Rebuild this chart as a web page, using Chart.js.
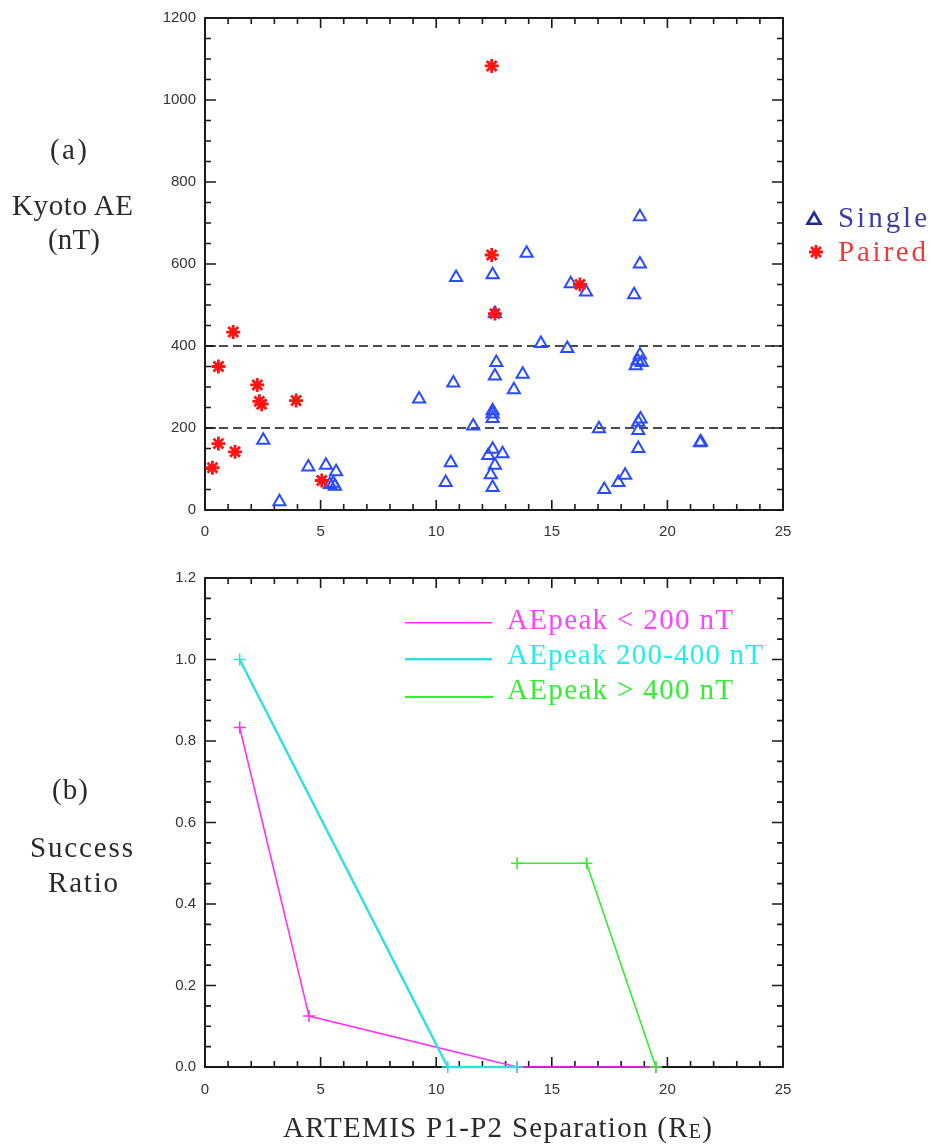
<!DOCTYPE html>
<html>
<head>
<meta charset="utf-8">
<title>ARTEMIS P1-P2 separation vs Kyoto AE</title>
<script src="https://cdn.jsdelivr.net/npm/chart.js@4.4.1/dist/chart.umd.min.js"></script>
<style>
  html, body { margin: 0; padding: 0; background: #fff; }
  #page { position: relative; width: 931px; height: 1147px; overflow: hidden; background: #fff; }
  canvas { position: absolute; left: 0; }
  #aeChart { top: 0; }
  #ratioChart { top: 560px; }
  .lbl {
    position: absolute;
    font-family: "Liberation Serif", "DejaVu Serif", serif;
    font-size: 29px;
    line-height: 29px;
    color: #2b2b2b;
    white-space: nowrap;
  }
  .sub { font-size: 20px; vertical-align: -1px; }
</style>
</head>
<body>
<div id="page">
  <canvas id="aeChart" width="931" height="560" style="width:931px;height:560px"></canvas>
  <canvas id="ratioChart" width="931" height="587" style="width:931px;height:587px"></canvas>

  <div class="lbl" data-x="68.5" data-y="150" data-w="37" data-anchor="c">(a)</div>
  <div class="lbl" data-x="72.5" data-y="205.5" data-w="121" data-anchor="c">Kyoto AE</div>
  <div class="lbl" data-x="74" data-y="240" data-w="52" data-anchor="c">(nT)</div>

  <div class="lbl" data-x="838" data-y="217.5" data-w="89" style="color:#3c3ca8">Single</div>
  <div class="lbl" data-x="838" data-y="251.5" data-w="88" style="color:#f03a3a">Paired</div>

  <div class="lbl" data-x="70" data-y="790" data-w="36" data-anchor="c">(b)</div>
  <div class="lbl" data-x="81.5" data-y="848" data-w="103" data-anchor="c">Success</div>
  <div class="lbl" data-x="83" data-y="883" data-w="70" data-anchor="c">Ratio</div>

  <div class="lbl" data-x="507" data-y="620" data-w="226" style="color:#ff44ff">AEpeak &lt; 200 nT</div>
  <div class="lbl" data-x="507" data-y="655" data-w="256" style="color:#22eeee">AEpeak 200-400 nT</div>
  <div class="lbl" data-x="507" data-y="690" data-w="226" style="color:#33ee33">AEpeak &gt; 400 nT</div>

  <div class="lbl" data-x="497.5" data-y="1127.5" data-w="429" data-anchor="c">ARTEMIS P1-P2 Separation (R<span class="sub">E</span>)</div>
</div>

<script>
// ---- (a) peak AE versus probe separation ----
const singleSep = [10.86, 12.44, 12.54, 12.60, 12.54, 10.74, 9.26, 12.44, 12.44, 12.44,
                   11.60, 2.52, 12.44, 12.25, 12.87, 12.54, 12.36, 12.44, 10.63, 10.41,
                   4.47, 5.23, 5.67, 5.40, 5.55, 5.62, 3.22, 13.91, 18.81, 15.82,
                   16.48, 18.56, 14.53, 15.67, 18.81, 18.71, 18.63, 18.89, 13.74, 13.36,
                   17.04, 18.84, 18.74, 18.74, 18.74, 21.41, 21.45, 18.17, 17.88, 17.27,
                   18.81];
const singleAE  = [567, 574, 479, 360, 327, 310, 271, 242, 234, 223,
                   205, 170, 148, 133, 137, 109, 86, 55, 115, 67,
                   105, 109, 93, 62, 65, 58, 20, 626, 600, 552,
                   532, 525, 406, 394, 378, 364, 352, 360, 331, 293,
                   198, 222, 214, 194, 150, 164, 166, 85, 67, 50,
                   715];
const pairedSep = [12.40, 12.40, 12.54, 16.22, 1.22, 0.58, 2.26, 2.35, 2.45, 3.94,
                   0.58, 1.30, 0.32, 5.05];
const pairedAE  = [1083, 622, 479, 550, 434, 350, 305, 265, 258, 267,
                   162, 142, 103, 72];
const aeThresholds = [200, 400];
const sepRange = [0, 25];
const sepTickValues = [0, 5, 10, 15, 20, 25];
const aeTickValues = [0, 200, 400, 600, 800, 1000, 1200];
const aeTickLabels = ['0', '200', '400', '600', '800', '1000', '1200'];

// ---- (b) success ratio per separation bin ----
const lowSep  = [1.5, 4.5, 13.5, 19.5];
const lowRatio = [0.833, 0.125, 0, 0];
const midSep  = [1.5, 10.5, 13.5];
const midRatio = [1.0, 0, 0];
const highSep = [13.5, 16.5, 19.5];
const highRatio = [0.5, 0.5, 0];
const ratioTickValues = [0, 0.2, 0.4, 0.6, 0.8, 1.0, 1.2];
const ratioTickLabels = ['0.0', '0.2', '0.4', '0.6', '0.8', '1.0', '1.2'];

const toPts = (xs, ys) => xs.map((x, i) => ({ x, y: ys[i] }));

Chart.defaults.font.family = '"Liberation Sans", Arial, sans-serif';
Chart.defaults.font.size = 15;
Chart.defaults.color = '#333';
Chart.defaults.animation = false;

// Closed frame with inward major/minor ticks on all four sides.
const framePlugin = {
  id: 'frame',
  beforeDatasetsDraw(chart, args, o) {
    const { ctx, chartArea: a } = chart;
    const xs = chart.scales.x, ys = chart.scales.y;
    ctx.save();
    ctx.strokeStyle = '#1a1a1a';
    ctx.lineWidth = 1.6;
    ctx.beginPath();
    const nx = Math.round((xs.max - xs.min) / o.xMinor);
    for (let i = 0; i <= nx; i++) {
      const v = xs.min + i * o.xMinor;
      const major = Math.abs(v / o.xMajor - Math.round(v / o.xMajor)) < 1e-6;
      const len = major ? 10 : 6;
      const p = xs.getPixelForValue(v);
      ctx.moveTo(p, a.bottom); ctx.lineTo(p, a.bottom - len);
      ctx.moveTo(p, a.top); ctx.lineTo(p, a.top + len);
    }
    const ny = Math.round((ys.max - ys.min) / o.yMinor);
    for (let i = 0; i <= ny; i++) {
      const v = ys.min + i * o.yMinor;
      const major = Math.abs(v / o.yMajor - Math.round(v / o.yMajor)) < 1e-6;
      const len = major ? 11 : 6;
      const p = ys.getPixelForValue(v);
      ctx.moveTo(a.left, p); ctx.lineTo(a.left + len, p);
      ctx.moveTo(a.right, p); ctx.lineTo(a.right - len, p);
    }
    ctx.stroke();
    ctx.lineWidth = 2;
    ctx.strokeRect(a.left, a.top, a.right - a.left, a.bottom - a.top);
    ctx.restore();
  }
};

// Legend samples (markers / line swatches) placed beside the text labels.
const keyPlugin = {
  id: 'keys',
  afterDraw(chart, args, o) {
    const ctx = chart.ctx;
    (o.items || []).forEach(k => {
      ctx.save();
      if (k.kind === 'line') {
        ctx.strokeStyle = k.color;
        ctx.lineWidth = k.width;
        ctx.beginPath();
        ctx.moveTo(k.x0, k.y); ctx.lineTo(k.x1, k.y);
        ctx.stroke();
      } else {
        ctx.strokeStyle = k.color;
        ctx.fillStyle = 'rgba(0,0,0,0)';
        ctx.lineWidth = k.width;
        Chart.helpers.drawPoint(ctx, { pointStyle: k.kind, radius: k.radius, rotation: 0, borderWidth: k.width }, k.x, k.y);
      }
      ctx.restore();
    });
  }
};

// Nudge the layout padding until the plot box sits on the wanted pixel edges.
function pinArea(chart, t) {
  for (let k = 0; k < 4; k++) {
    const a = chart.chartArea, p = chart.options.layout.padding;
    const dl = t.left - a.left, dr = a.right - t.right;
    const dt = t.top - a.top, db = a.bottom - t.bottom;
    if (Math.abs(dl) + Math.abs(dr) + Math.abs(dt) + Math.abs(db) < 0.3) break;
    p.left += dl; p.right += dr; p.top += dt; p.bottom += db;
    chart.update('none');
  }
}

const hiddenGrid = { display: false, drawTicks: false };

const aeChart = new Chart(document.getElementById('aeChart'), {
  type: 'scatter',
  data: {
    datasets: [
      ...aeThresholds.map(t => ({
        type: 'line',
        label: 'AE ' + t + ' nT',
        data: toPts(sepRange, [t, t]),
        borderColor: '#111',
        borderWidth: 1.6,
        borderDash: [9, 5],
        pointRadius: 0,
        fill: false,
        order: 3
      })),
      {
        label: 'Single',
        data: toPts(singleSep, singleAE),
        pointStyle: 'triangle',
        pointRadius: 7,
        borderColor: '#2b4bff',
        backgroundColor: 'rgba(0,0,0,0)',
        pointBorderWidth: 2,
        order: 2
      },
      {
        label: 'Paired',
        data: toPts(pairedSep, pairedAE),
        pointStyle: 'star',
        pointRadius: 7,
        borderColor: '#ff1414',
        backgroundColor: '#ff1414',
        pointBorderWidth: 2.8,
        order: 1
      }
    ]
  },
  options: {
    responsive: false,
    devicePixelRatio: 1,
    layout: { padding: { left: 145, right: 148, top: 15, bottom: 10 } },
    plugins: {
      legend: { display: false },
      tooltip: { enabled: false },
      frame: { xMinor: 1, xMajor: 5, yMinor: 50, yMajor: 200 },
      keys: {
        items: [
          { kind: 'triangle', color: '#1c2a9a', width: 2.6, radius: 7.5, x: 814, y: 220 },
          { kind: 'star', color: '#ff1414', width: 2.8, radius: 7, x: 816, y: 252 }
        ]
      }
    },
    scales: {
      x: {
        type: 'linear', min: sepRange[0], max: sepRange[1],
        grid: hiddenGrid, border: { display: false },
        afterBuildTicks: s => { s.ticks = sepTickValues.map(v => ({ value: v })); },
        afterFit: s => { s.height = 40; },
        ticks: { padding: 13, maxRotation: 0, callback: (v, i) => String(sepTickValues[i]) }
      },
      y: {
        type: 'linear', min: 0, max: 1200,
        grid: hiddenGrid, border: { display: false },
        afterBuildTicks: s => { s.ticks = aeTickValues.map(v => ({ value: v })); },
        afterFit: s => { s.width = 60; },
        ticks: { padding: 9, callback: (v, i) => aeTickLabels[i] }
      }
    }
  },
  plugins: [framePlugin, keyPlugin]
});
pinArea(aeChart, { left: 205, right: 783, top: 15, bottom: 510 });

const crossLine = (label, xs, ys, color, width) => ({
  type: 'line',
  label,
  data: toPts(xs, ys),
  borderColor: color,
  borderWidth: width,
  pointStyle: 'cross',
  pointRadius: 6,
  pointBorderWidth: 1.6,
  pointBorderColor: color,
  pointBackgroundColor: color,
  tension: 0,
  fill: false,
  clip: false
});

const ratioChart = new Chart(document.getElementById('ratioChart'), {
  type: 'scatter',
  data: {
    datasets: [
      crossLine('AEpeak 200-400 nT', midSep, midRatio, '#30e0e0', 2.4),
      crossLine('AEpeak > 400 nT', highSep, highRatio, '#30f030', 1.6),
      crossLine('AEpeak < 200 nT', lowSep, lowRatio, '#ff30ff', 1.6)
    ]
  },
  options: {
    responsive: false,
    devicePixelRatio: 1,
    layout: { padding: { left: 145, right: 148, top: 13, bottom: 40 } },
    plugins: {
      legend: { display: false },
      tooltip: { enabled: false },
      frame: { xMinor: 1, xMajor: 5, yMinor: 0.05, yMajor: 0.2 },
      keys: {
        items: [
          { kind: 'line', color: '#ff30ff', width: 1.6, x0: 405, x1: 492, y: 62.7 },
          { kind: 'line', color: '#30e0e0', width: 2.4, x0: 405, x1: 492, y: 99.3 },
          { kind: 'line', color: '#30f030', width: 1.8, x0: 405, x1: 493, y: 137 }
        ]
      }
    },
    scales: {
      x: {
        type: 'linear', min: sepRange[0], max: sepRange[1],
        grid: hiddenGrid, border: { display: false },
        afterBuildTicks: s => { s.ticks = sepTickValues.map(v => ({ value: v })); },
        afterFit: s => { s.height = 40; },
        ticks: { padding: 14, maxRotation: 0, callback: (v, i) => String(sepTickValues[i]) }
      },
      y: {
        type: 'linear', min: 0, max: 1.2,
        grid: hiddenGrid, border: { display: false },
        afterBuildTicks: s => { s.ticks = ratioTickValues.map(v => ({ value: v })); },
        afterFit: s => { s.width = 60; },
        ticks: { padding: 9, callback: (v, i) => ratioTickLabels[i] }
      }
    }
  },
  plugins: [framePlugin, keyPlugin]
});
pinArea(ratioChart, { left: 205, right: 783, top: 12.7, bottom: 507 });

// Monospaced-style spacing for the serif labels: stretch each label to its width,
// then place it by the centre of its capital letters.
document.querySelectorAll('.lbl').forEach(el => {
  el.style.letterSpacing = '0px';
  const n = el.textContent.length;
  const w0 = el.getBoundingClientRect().width;
  const target = +el.dataset.w;
  const ls = n > 1 ? (target - w0) / (n - 1) : 0;
  el.style.letterSpacing = ls.toFixed(2) + 'px';
  const inkW = w0 + (n - 1) * ls;
  const x = +el.dataset.x;
  const fs = parseFloat(getComputedStyle(el).fontSize);
  const capMid = (fs - 1.107 * fs) / 2 + 0.891 * fs - 0.331 * fs;
  el.style.left = (el.dataset.anchor === 'c' ? x - inkW / 2 : x) + 'px';
  el.style.top = (+el.dataset.y - capMid) + 'px';
});
</script>
</body>
</html>
